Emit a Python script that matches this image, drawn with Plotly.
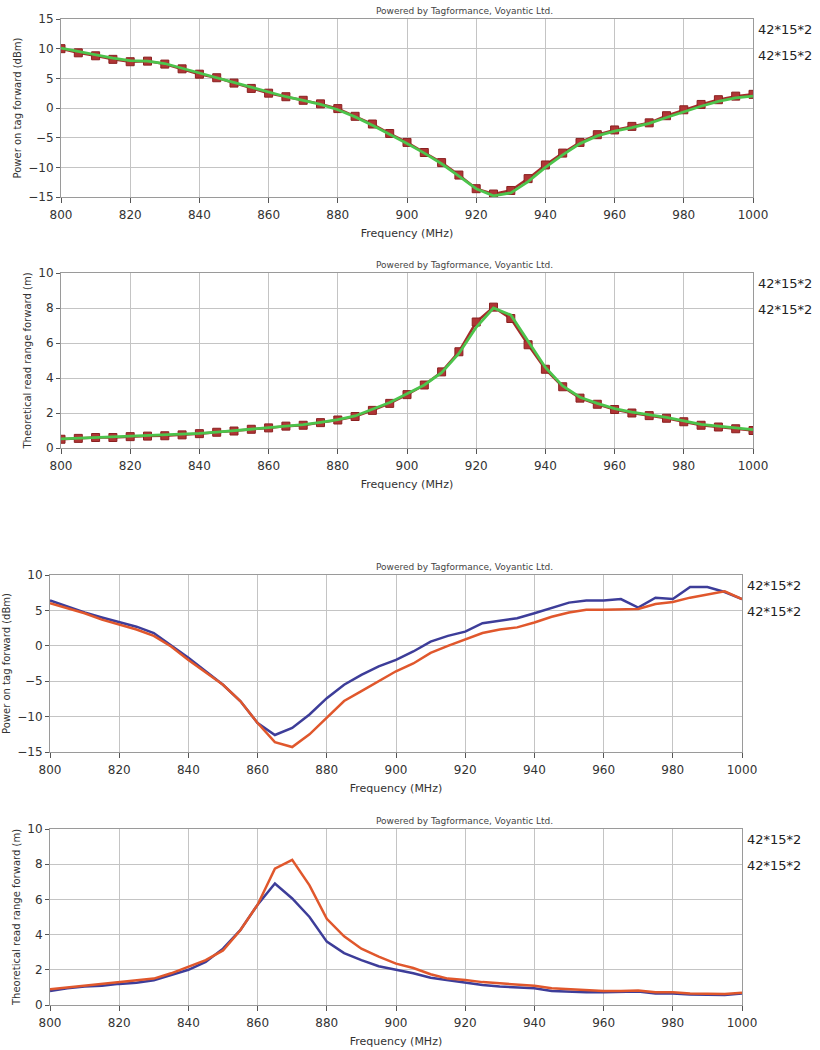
import plotly.graph_objects as go

freq = list(range(800, 1001, 5))

# Panel 1: power on tag forward (dBm), two tags
p1_red = [10.0, 9.3, 8.8, 8.2, 7.8, 7.9, 7.4, 6.6, 5.7, 5.1, 4.2, 3.3, 2.5, 1.9, 1.3, 0.7, -0.1, -1.4, -2.7, -4.3,
          -5.8, -7.5, -9.2, -11.3, -13.6, -14.5, -13.9, -11.9, -9.6, -7.6, -5.8, -4.5, -3.7, -3.1, -2.5, -1.3,
          -0.3, 0.6, 1.4, 2.0, 2.3]
p1_green = [10.1, 9.5, 8.9, 8.4, 8.0, 7.9, 7.5, 6.7, 5.9, 5.1, 4.3, 3.4, 2.6, 1.9, 1.3, 0.6, -0.3, -1.5, -2.9, -4.4,
            -6.0, -7.6, -9.4, -11.5, -13.6, -14.8, -14.3, -12.4, -10.0, -7.9, -6.0, -4.7, -3.9, -3.3, -2.6, -1.6,
            -0.6, 0.3, 1.1, 1.7, 2.0]

# Panel 2: theoretical read range forward (m)
p2_red = [0.5, 0.55, 0.6, 0.6, 0.65, 0.68, 0.7, 0.75, 0.82, 0.9, 0.97, 1.07, 1.15, 1.25, 1.3, 1.45, 1.6, 1.8,
          2.15, 2.55, 3.05, 3.6, 4.35, 5.5, 7.2, 8.05, 7.4, 5.9, 4.5, 3.5, 2.85, 2.5, 2.2, 2.0, 1.85, 1.7, 1.5,
          1.3, 1.2, 1.1, 1.0]
p2_green = [0.52, 0.56, 0.6, 0.62, 0.66, 0.69, 0.72, 0.77, 0.84, 0.91, 0.99, 1.08, 1.17, 1.26, 1.33, 1.47, 1.62,
            1.83, 2.2, 2.6, 3.1, 3.6, 4.3, 5.4, 6.9, 8.0, 7.6, 6.1, 4.6, 3.55, 2.9, 2.55, 2.25, 2.05, 1.9, 1.75,
            1.55, 1.35, 1.25, 1.15, 1.05]

# Panel 3: power on tag forward (dBm), second pair
p3_blue = [6.4, 5.5, 4.7, 4.0, 3.4, 2.7, 1.8, 0.1, -1.7, -3.6, -5.5, -7.8, -10.9, -12.6, -11.6, -9.7, -7.4, -5.5,
           -4.1, -2.9, -2.0, -0.8, 0.6, 1.4, 2.0, 3.2, 3.5, 3.9, 4.6, 5.4, 6.1, 6.4, 6.4, 6.6, 5.4, 6.8, 6.6, 8.3,
           8.3, 7.6, 6.6]
p3_orange = [6.0, 5.3, 4.6, 3.7, 3.0, 2.3, 1.4, -0.1, -2.0, -3.8, -5.5, -7.8, -10.9, -13.6, -14.3, -12.5, -10.2,
             -7.8, -6.4, -5.0, -3.6, -2.5, -1.0, 0.0, 0.9, 1.8, 2.3, 2.6, 3.3, 4.1, 4.7, 5.1, 5.1, 5.2, 5.2, 5.9,
             6.2, 6.8, 7.3, 7.7, 6.6]

# Panel 4: theoretical read range forward (m), second pair
p4_blue = [0.8, 0.95, 1.05, 1.1, 1.2, 1.27, 1.4, 1.7, 2.0, 2.45, 3.2, 4.25, 5.7, 6.9, 6.05, 5.0, 3.6, 2.95, 2.55,
           2.2, 2.0, 1.8, 1.55, 1.4, 1.27, 1.13, 1.05, 1.0, 0.95, 0.8, 0.75, 0.72, 0.72, 0.72, 0.76, 0.66, 0.66,
           0.6, 0.57, 0.57, 0.66]
p4_orange = [0.9, 1.0, 1.08, 1.17, 1.27, 1.36, 1.5, 1.8, 2.18, 2.55, 3.1, 4.25, 5.7, 7.75, 8.25, 6.8, 4.9, 3.9,
             3.2, 2.75, 2.35, 2.1, 1.75, 1.5, 1.42, 1.3, 1.23, 1.17, 1.1, 0.95, 0.9, 0.85, 0.8, 0.8, 0.83, 0.72,
             0.72, 0.66, 0.62, 0.62, 0.7]

series_label = "42*15*2"
credit = "Powered by Tagformance, Voyantic Ltd."
x_title = "Frequency (MHz)"
y_titles = ["Power on tag forward (dBm)", "Theoretical read range forward (m)",
            "Power on tag forward (dBm)", "Theoretical read range forward (m)"]
y_ranges = [[-15, 15], [0, 10], [-15, 10], [0, 10]]
y_dticks = [5, 2, 5, 2]

W, H = 820, 1050
# plot boxes in pixels: (left, right, top, bottom)
boxes = [(61, 753, 19, 197), (61, 753, 273, 448), (50, 742, 575, 752), (50, 742, 829, 1005)]

RED = "#a52b2b"
GREEN = "#4cc44c"
BLUE = "#3d3d99"
ORANGE = "#e0572c"
FONT = "DejaVu Sans"

fig = go.Figure()

def add(panel, y, color, width, mode="lines", marker=None, name=""):
    sfx = "" if panel == 1 else str(panel)
    kw = dict(x=freq, y=y, mode=mode, name=name, line=dict(color=color, width=width),
              xaxis="x" + sfx, yaxis="y" + sfx, showlegend=False, hoverinfo="x+y")
    if marker:
        kw["marker"] = marker
    fig.add_trace(go.Scatter(**kw))

sq = dict(symbol="square", size=8, color="#b03535", line=dict(color="#8a2020", width=1))
add(1, p1_red, RED, 2.5, "lines+markers", sq, series_label)
add(1, p1_green, GREEN, 2.8, name=series_label)
add(2, p2_red, RED, 2.5, "lines+markers", sq, series_label)
add(2, p2_green, GREEN, 2.8, name=series_label)
add(3, p3_blue, BLUE, 2.5, name=series_label)
add(3, p3_orange, ORANGE, 2.5, name=series_label)
add(4, p4_blue, BLUE, 2.5, name=series_label)
add(4, p4_orange, ORANGE, 2.5, name=series_label)

layout = dict(width=W, height=H, autosize=False, margin=dict(l=0, r=0, t=0, b=0),
              paper_bgcolor="white", plot_bgcolor="white",
              font=dict(family=FONT, color="#222222", size=12))
annotations = []
for i, (l, r, t, b) in enumerate(boxes):
    sfx = "" if i == 0 else str(i + 1)
    layout["xaxis" + sfx] = dict(
        domain=[l / W, r / W], anchor="y" + sfx, range=[800, 1000], dtick=20, tick0=800,
        showgrid=True, gridcolor="#c4c4c4", gridwidth=1, zeroline=False,
        showline=True, linecolor="#9a9a9a", mirror=True, ticks="outside", ticklen=5,
        tickcolor="#555555", tickfont=dict(size=12, family=FONT, color="#333333"),
        ticklabelstandoff=2,
        title=dict(text=x_title, font=dict(size=11, family=FONT, color="#333333"), standoff=7),
        automargin=False, fixedrange=True)
    layout["yaxis" + sfx] = dict(
        domain=[1 - b / H, 1 - t / H], anchor="x" + sfx, range=y_ranges[i], dtick=y_dticks[i],
        showgrid=True, gridcolor="#c4c4c4", gridwidth=1, zeroline=False,
        showline=True, linecolor="#9a9a9a", mirror=True, ticks="outside", ticklen=4,
        tickcolor="#555555", tickfont=dict(size=12, family=FONT, color="#333333"),
        title=dict(text=y_titles[i], font=dict(size=10, family=FONT, color="#333333"), standoff=4),
        automargin=False, fixedrange=True)
    annotations.append(dict(text=credit, x=465 / W, y=1 - (t - 1) / H, xref="paper", yref="paper",
                            xanchor="center", yanchor="bottom", showarrow=False,
                            font=dict(size=9, family=FONT, color="#444444")))
    for k, off in enumerate([10, 36]):
        annotations.append(dict(text=series_label, x=(r + 3) / W, y=1 - (t + off) / H,
                                xref="paper", yref="paper", xanchor="left", yanchor="middle",
                                showarrow=False, font=dict(size=13, family=FONT, color="#222222")))
layout["annotations"] = annotations
fig.update_layout(**layout)

fig.write_html("out.html", config={"displayModeBar": False},
               post_script="document.body.style.margin='0';document.body.style.overflow='hidden';")
